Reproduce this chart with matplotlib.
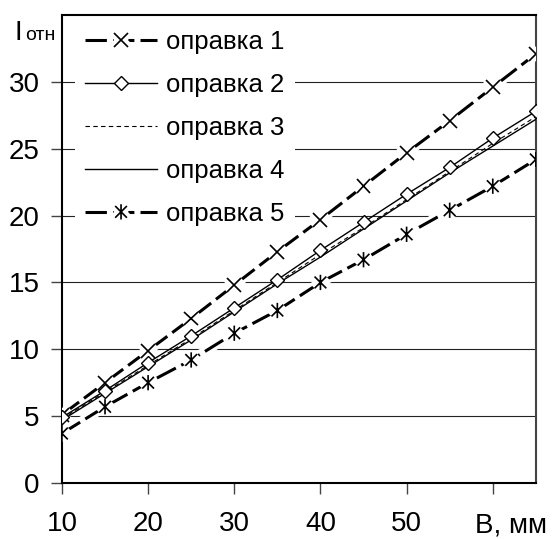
import matplotlib.pyplot as plt
import matplotlib.patheffects as pe
from matplotlib.path import Path

plt.rcParams['font.family'] = ['Liberation Sans', 'DejaVu Sans']

# ширина B, мм
b = [10, 15, 20, 25, 30, 35, 40, 45, 50, 55, 60, 65]

opr1 = [5.1, 7.5, 9.9, 12.3, 14.8, 17.3, 19.7, 22.2, 24.7, 27.1, 29.6, 32.1]
opr2 = [4.9, 6.9, 9.0, 11.0, 13.1, 15.2, 17.4, 19.5, 21.6, 23.6, 25.8, 27.8]
opr3 = [4.8, 6.8, 8.8, 10.8, 12.9, 15.0, 17.1, 19.1, 21.2, 23.3, 25.4, 27.4]
opr4 = [4.7, 6.7, 8.7, 10.7, 12.8, 14.9, 16.9, 19.0, 21.1, 23.2, 25.2, 27.2]
opr5 = [3.7, 5.7, 7.5, 9.2, 11.2, 12.9, 15.0, 16.7, 18.6, 20.4, 22.2, 24.2]

names = ["оправка 1", "оправка 2", "оправка 3", "оправка 4", "оправка 5"]
xticks = [10, 20, 30, 40, 50, 60]
xlabels = ["10", "20", "30", "40", "50", ""]

# маркер "звездочка" как в Excel: крест + вертикальная черта
star = Path([(-1, -1), (1, 1), (-1, 1), (1, -1), (0, -1.3), (0, 1.3)],
            [Path.MOVETO, Path.LINETO, Path.MOVETO, Path.LINETO, Path.MOVETO, Path.LINETO])

# белый ореол вокруг линий и маркеров (разрывы сетки и линии у маркеров)
halo = [pe.Stroke(linewidth=7, foreground='white',
                  dashes={'dash_offset': 0, 'dash_list': None}), pe.Normal()]

fig = plt.figure(figsize=(5.53, 5.39), dpi=100)
ax = fig.add_axes([0.112, 0.104, 0.857, 0.868])

l1, = ax.plot(b, opr1, color='black', lw=2.2, dashes=(7, 2), marker='x', ms=10, mew=1.2,
              label=names[0], path_effects=halo, zorder=3)
l5, = ax.plot(b, opr5, color='black', lw=2.2, dashes=(7, 2), marker=star, ms=11, mew=1.2,
              label=names[4], path_effects=halo, zorder=3)
l4, = ax.plot(b, opr4, color='black', lw=1.0, label=names[3], zorder=4)
l3, = ax.plot(b, opr3, color='black', lw=0.8, dashes=(4, 3), label=names[2], zorder=4)
l2, = ax.plot(b, opr2, color='black', lw=1.0, marker='D', ms=7, mfc='white', mew=1.0,
              label=names[1], zorder=5)

ax.set_xlim(10, 65)
ax.set_ylim(0, 35)
ax.set_xticks(xticks)
ax.set_xticklabels(xlabels)
ax.set_yticks([0, 5, 10, 15, 20, 25, 30])
ax.tick_params(axis='both', labelsize=20, direction='out', length=8, width=1, color='#444444')
ax.tick_params(axis='x', pad=12)
ax.tick_params(axis='y', pad=8)

ax.grid(axis='y', color='#222222', lw=0.8)
ax.set_axisbelow(True)
for s in ax.spines.values():
    s.set_linewidth(1.5)
    s.set_color('black')
ax.spines['right'].set_color('#444444')

leg = ax.legend(handles=[l1, l2, l3, l4, l5], loc='upper left', bbox_to_anchor=(0.0, 1.018),
                fontsize=18.5, numpoints=1, handlelength=2.8, handletextpad=0.35,
                labelspacing=0.74, borderpad=0.4, frameon=True, fancybox=False)
leg.get_frame().set_facecolor('white')
leg.get_frame().set_edgecolor('none')
leg.get_frame().set_alpha(1)
leg.set_zorder(10)

fig.text(0.027, 0.926, "I", fontsize=20, ha='left', va='baseline')
fig.text(0.046, 0.926, "отн", fontsize=14, ha='left', va='baseline')
fig.text(0.859, 0.012, "B, мм", fontsize=20, ha='left', va='baseline')

plt.savefig("out.png", dpi=100)
